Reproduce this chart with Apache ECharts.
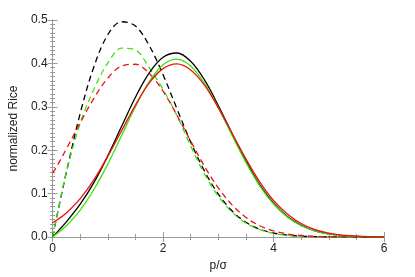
<!DOCTYPE html>
<html>
<head>
<meta charset="utf-8">
<script src="https://cdn.jsdelivr.net/npm/echarts@6/dist/echarts.min.js"></script>
<style>
html,body{margin:0;padding:0;background:#fff;}
#c{width:415px;height:277px;}
</style>
</head>
<body>
<div id="c"></div>
<script>
var xs = [0, 0.1, 0.25, 0.5, 0.75, 1, 1.25, 1.5, 1.75, 2, 2.25, 2.5, 2.75, 3, 3.25, 3.5, 3.75, 4, 4.25, 4.5, 4.75, 5, 5.25, 5.5, 5.75, 6];
var blackDash = [0, 0.061, 0.149, 0.285, 0.393, 0.466, 0.496, 0.486, 0.441, 0.374, 0.296, 0.219, 0.152, 0.099, 0.060, 0.034, 0.018, 0.0092, 0.0044, 0.0019, 0.0008, 0.0003, 0.0001, 0.00004, 0.00001, 0];
var greenDash = [0, 0.062, 0.150, 0.262, 0.341, 0.401, 0.435, 0.431, 0.390, 0.340, 0.280, 0.210, 0.145, 0.094, 0.057, 0.032, 0.017, 0.0085, 0.0041, 0.0018, 0.0007, 0.0003, 0.0001, 0.00004, 0.00001, 0];
var redDash = [0.147, 0.168, 0.203, 0.263, 0.320, 0.366, 0.394, 0.398, 0.377, 0.336, 0.281, 0.221, 0.163, 0.113, 0.074, 0.045, 0.026, 0.014, 0.0072, 0.0034, 0.0015, 0.0006, 0.0003, 0.0001, 0.00003, 0];
var blackSolid = [0, 0.0136, 0.035, 0.0756, 0.126, 0.187, 0.255, 0.322, 0.378, 0.414, 0.424, 0.405, 0.362, 0.303, 0.238, 0.175, 0.120, 0.078, 0.047, 0.027, 0.014, 0.0071, 0.0033, 0.0015, 0.0006, 0.0002];
var greenSolid = [0, 0.010, 0.026, 0.062, 0.110, 0.168, 0.234, 0.300, 0.358, 0.397, 0.410, 0.394, 0.354, 0.298, 0.234, 0.172, 0.118, 0.076, 0.046, 0.026, 0.014, 0.0068, 0.0032, 0.0014, 0.0006, 0.0002];
var redSolid = [0.0327, 0.041, 0.0555, 0.0884, 0.132, 0.186, 0.245, 0.304, 0.355, 0.388, 0.399, 0.385, 0.350, 0.298, 0.239, 0.180, 0.127, 0.084, 0.053, 0.031, 0.017, 0.0087, 0.0043, 0.0019, 0.0008, 0.0003];
var xTicks = ['0', '2', '4', '6'];
var yTicks = ['0.0', '0.1', '0.2', '0.3', '0.4', '0.5'];

function pairs(ys){ return xs.map(function(x,i){ return [x, ys[i]]; }); }

var AX = '#9a9a9a';
var FONT = 'Liberation Sans, Arial, Helvetica, sans-serif';
function xAx(pos, labels){
  return {
    type:'value', position:pos, min:0, max:6, interval:2,
    axisLine:{show:true, lineStyle:{color:AX, width:1}},
    axisTick:{show:true, inside:true, length:5, lineStyle:{color:AX}},
    minorTick:{show:true, splitNumber:4, length:3, lineStyle:{color:AX}},
    splitLine:{show:false},
    axisLabel:{show:labels, color:'#222', fontSize:12, fontFamily:FONT, margin:6,
      formatter:function(v){ return xTicks[Math.round(v/2)]; }},
    name: labels ? 'p/σ' : '', nameLocation:'middle', nameGap:19,
    nameTextStyle:{color:'#222', fontSize:12, fontFamily:FONT}
  };
}
function yAx(pos, labels){
  return {
    type:'value', position:pos, min:0, max:0.5, interval:0.1,
    axisLine:{show:true, lineStyle:{color:AX, width:1}},
    axisTick:{show:true, inside:true, length:5, lineStyle:{color:AX}},
    minorTick:{show:true, splitNumber:10, length:2.5, lineStyle:{color:AX}},
    splitLine:{show:false},
    axisLabel:{show:labels, color:'#222', fontSize:12, fontFamily:FONT, margin:5,
      formatter:function(v){ return yTicks[Math.round(v*10)]; }},
    name: labels ? 'normalized Rice' : '', nameLocation:'middle', nameGap:22,
    nameTextStyle:{color:'#222', fontSize:12, fontFamily:FONT}
  };
}
function ser(ys, color, dashed){
  return {
    type:'line', data:pairs(ys), xAxisIndex:0, yAxisIndex:0,
    smooth:0.35, symbol:'none', silent:true, animation:false,
    lineStyle:{color:color, width:1.3, type: dashed ? [6,4] : 'solid'}
  };
}
var chart = echarts.init(document.getElementById('c'), null, {renderer:'canvas'});
chart.setOption({
  backgroundColor:'#fff',
  animation:false,
  grid:{left:49, right:31, top:20, bottom:40, containLabel:false},
  xAxis:[xAx('bottom', true), xAx('top', false)],
  yAxis:[yAx('left', true), yAx('right', false)],
  series:[
    ser(blackDash, '#000000', true),
    ser(greenDash, '#3ee010', true),
    ser(redDash, '#f01010', true),
    ser(blackSolid, '#000000', false),
    ser(greenSolid, '#3ee010', false),
    ser(redSolid, '#f01010', false)
  ]
});
</script>
</body>
</html>
